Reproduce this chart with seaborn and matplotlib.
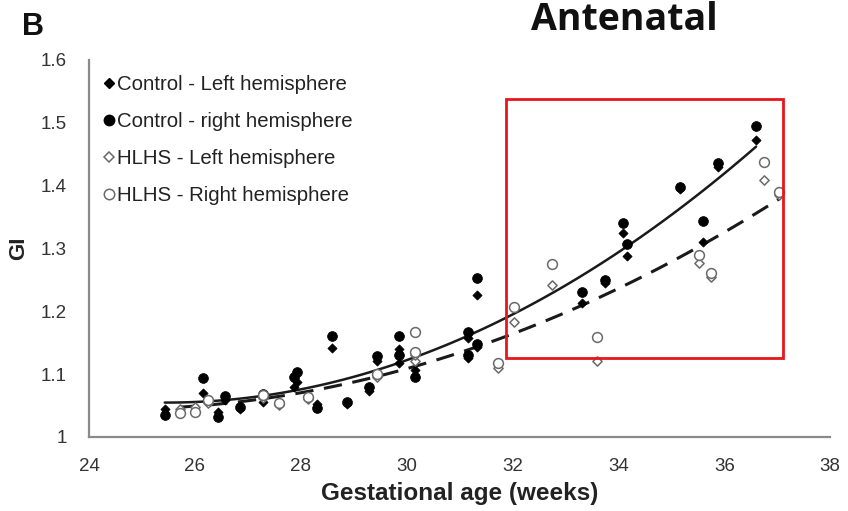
import numpy as np
import pandas as pd
import matplotlib
matplotlib.use("Agg")
import matplotlib.pyplot as plt
from matplotlib.patches import Rectangle
from matplotlib.lines import Line2D
import seaborn as sns

# ---------------- data ----------------
control_age = [25.43, 26.15, 26.43, 26.57, 26.85, 27.28, 27.87, 27.92, 28.30, 28.58,
               28.87, 29.28, 29.43, 29.85, 29.85, 30.15, 31.15, 31.15, 31.32, 31.32,
               33.32, 33.74, 34.09, 34.17, 35.17, 35.60, 35.89, 36.60]
control_left = [1.045, 1.070, 1.040, 1.059, 1.045, 1.055, 1.080, 1.088, 1.052, 1.142,
                1.052, 1.073, 1.120, 1.140, 1.118, 1.107, 1.158, 1.126, 1.226, 1.143,
                1.213, 1.245, 1.325, 1.288, 1.395, 1.310, 1.430, 1.473]
control_right = [1.035, 1.094, 1.032, 1.065, 1.048, 1.068, 1.096, 1.103, 1.046, 1.160,
                 1.056, 1.080, 1.128, 1.160, 1.130, 1.096, 1.167, 1.130, 1.253, 1.148,
                 1.230, 1.250, 1.340, 1.307, 1.398, 1.344, 1.435, 1.495]

hlhs_age = [25.72, 26.00, 26.25, 27.28, 27.58, 28.13, 29.43, 30.15, 30.15, 31.72,
            32.02, 32.74, 33.60, 35.53, 35.74, 36.75, 37.04]
hlhs_left = [1.045, 1.048, 1.054, 1.062, 1.050, 1.060, 1.095, 1.120, 1.130, 1.110,
             1.183, 1.242, 1.120, 1.277, 1.255, 1.408, 1.385]
hlhs_right = [1.038, 1.040, 1.058, 1.066, 1.054, 1.064, 1.100, 1.167, 1.135, 1.118,
              1.207, 1.275, 1.159, 1.290, 1.260, 1.438, 1.390]

legend_labels = ["Control - Left hemisphere", "Control - right hemisphere",
                 "HLHS - Left hemisphere", "HLHS - Right hemisphere"]
x_ticks = [24, 26, 28, 30, 32, 34, 36, 38]
y_ticks = [1.0, 1.1, 1.2, 1.3, 1.4, 1.5, 1.6]
y_tick_labels = ["1", "1.1", "1.2", "1.3", "1.4", "1.5", "1.6"]
highlight_x = [31.87, 37.11]
highlight_y = [1.126, 1.537]

# ---------------- figure ----------------
sns.set_theme(style="white")
plt.rcParams["font.family"] = ["Liberation Sans", "DejaVu Sans"]

fig = plt.figure(figsize=(8.48, 5.11), dpi=100)
ax = fig.add_axes([0.105, 0.145, 0.874, 0.738])

ctrl = pd.DataFrame({"age": control_age * 2, "gi": control_left + control_right})
hl = pd.DataFrame({"age": hlhs_age * 2, "gi": hlhs_left + hlhs_right})

# fitted trend lines (quadratic)
sns.regplot(data=ctrl, x="age", y="gi", order=2, ci=None, scatter=False, ax=ax,
            line_kws=dict(color="#1a1a1a", lw=1.8, zorder=2))
sns.regplot(data=hl, x="age", y="gi", order=2, ci=None, scatter=False, ax=ax,
            line_kws=dict(color="#1a1a1a", lw=2.2, ls=(0, (6, 3.5)), zorder=2))

sns.scatterplot(x=control_age, y=control_left, marker="D", s=22, color="black",
                edgecolor="black", linewidth=0.5, ax=ax, zorder=3)
sns.scatterplot(x=control_age, y=control_right, marker="o", s=50, color="black",
                edgecolor="black", linewidth=0.5, ax=ax, zorder=3)
sns.scatterplot(x=hlhs_age, y=hlhs_left, marker="D", s=22, color="white",
                edgecolor="#6a6a6a", linewidth=1.1, ax=ax, zorder=3)
sns.scatterplot(x=hlhs_age, y=hlhs_right, marker="o", s=50, color="white",
                edgecolor="#6a6a6a", linewidth=1.1, ax=ax, zorder=3)

ax.set_xlim(24, 38)
ax.set_ylim(1.0, 1.6)
ax.set_xticks(x_ticks)
ax.set_yticks(y_ticks)
ax.set_yticklabels(y_tick_labels)
for s in ["top", "right"]:
    ax.spines[s].set_visible(False)
for s in ["left", "bottom"]:
    ax.spines[s].set_color("#8a8a8a")
    ax.spines[s].set_linewidth(1.6)
ax.tick_params(axis="both", labelsize=13.5, colors="#8a8a8a", labelcolor="#333333",
               length=4, width=1.2)
ax.tick_params(axis="x", direction="inout", length=6, pad=12)
ax.tick_params(axis="y", direction="out", pad=12)

ax.set_xlabel("Gestational age (weeks)", fontsize=17.5, fontweight="bold",
              color="#222222", labelpad=5)
ax.set_ylabel("GI", fontsize=16, fontweight="bold", color="#222222", labelpad=8)

# highlight box
ax.add_patch(Rectangle((highlight_x[0], highlight_y[0]),
                       highlight_x[1] - highlight_x[0], highlight_y[1] - highlight_y[0],
                       fill=False, edgecolor="#e8161b", lw=2.0, zorder=5, clip_on=False))

# legend
handles = [
    Line2D([], [], ls="none", marker="D", ms=5, color="black"),
    Line2D([], [], ls="none", marker="o", ms=7.5, color="black"),
    Line2D([], [], ls="none", marker="D", ms=5, mfc="white", mec="#6a6a6a", mew=1.1),
    Line2D([], [], ls="none", marker="o", ms=7.5, mfc="white", mec="#6a6a6a", mew=1.1),
]
ax.legend(handles, legend_labels, loc="upper left", bbox_to_anchor=(0.0, 1.0),
          frameon=False, fontsize=14.7, handlelength=0.5, handletextpad=0.1,
          labelspacing=0.88, labelcolor="#222222", borderaxespad=0.35)

fig.text(0.026, 0.932, "B", fontsize=22, fontweight="bold", color="#111111",
         va="baseline", ha="left")
fig.text(0.736, 0.942, "Antenatal", fontsize=27, fontweight="bold", color="#111111",
         va="baseline", ha="center", family=["Open Sans", "DejaVu Sans"])

fig.savefig("out.png", dpi=100)
